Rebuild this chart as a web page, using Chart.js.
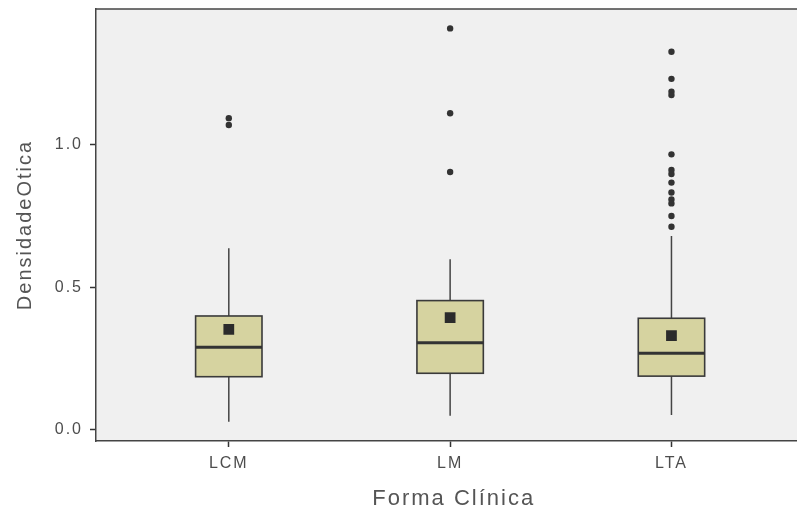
<!DOCTYPE html>
<html><head><meta charset="utf-8">
<script src="https://cdn.jsdelivr.net/npm/chart.js@4.4.1/dist/chart.umd.min.js"></script>
<style>html,body{margin:0;padding:0;overflow:hidden;background:#fff}canvas{display:block}</style>
</head><body><canvas id="c" width="805" height="516" style="width:805px;height:516px"></canvas>
<script>
const categories = ['LCM', 'LM', 'LTA'];
const q1 = [0.187, 0.199, 0.189];
const median = [0.290, 0.306, 0.269];
const q3 = [0.400, 0.454, 0.392];
const whiskerLow = [0.029, 0.050, 0.053];
const whiskerHigh = [0.638, 0.599, 0.681];
const means = [0.353, 0.394, 0.331];
const outliersLCM = [1.094, 1.070];
const outliersLM = [1.409, 1.111, 0.905];
const outliersLTA = [1.327, 1.232, 1.187, 1.175, 0.967, 0.912, 0.898, 0.868, 0.833, 0.809, 0.795, 0.751, 0.713];
const yTicks = [0, 0.5, 1.0];
const xTitle = 'Forma Clínica';
const yTitle = 'DensidadeOtica';

const FONT = '"Liberation Sans", Arial, sans-serif';
const outlierSets = [outliersLCM, outliersLM, outliersLTA];

const boxPlugin = {
  id: 'boxplot',
  beforeDraw(chart) {
    const {ctx, chartArea: a} = chart;
    ctx.letterSpacing = '2px';
    ctx.save();
    ctx.fillStyle = '#F0F0F0';
    ctx.fillRect(a.left, a.top, a.right - a.left, a.bottom - a.top);
    ctx.restore();
  },
  beforeDatasetsDraw(chart) {
    const xs = chart.scales.x, ys = chart.scales.y, ctx = chart.ctx;
    const halfW = 0.15;
    ctx.save();
    categories.forEach((c, i) => {
      const cx = xs.getPixelForValue(i + 1);
      const l = xs.getPixelForValue(i + 1 - halfW);
      const r = xs.getPixelForValue(i + 1 + halfW);
      const yq1 = ys.getPixelForValue(q1[i]);
      const yq3 = ys.getPixelForValue(q3[i]);
      const ymed = ys.getPixelForValue(median[i]);
      ctx.strokeStyle = '#444444';
      ctx.lineWidth = 1.5;
      ctx.beginPath();
      ctx.moveTo(cx, ys.getPixelForValue(whiskerHigh[i]));
      ctx.lineTo(cx, yq3);
      ctx.moveTo(cx, yq1);
      ctx.lineTo(cx, ys.getPixelForValue(whiskerLow[i]));
      ctx.stroke();
      ctx.fillStyle = '#D6D3A0';
      ctx.fillRect(l, yq3, r - l, yq1 - yq3);
      ctx.strokeStyle = '#3a3a3a';
      ctx.lineWidth = 1.6;
      ctx.strokeRect(l, yq3, r - l, yq1 - yq3);
      ctx.lineWidth = 3;
      ctx.strokeStyle = '#333333';
      ctx.beginPath();
      ctx.moveTo(l, ymed);
      ctx.lineTo(r, ymed);
      ctx.stroke();
    });
    ctx.restore();
  },
  afterDraw(chart) {
    const {ctx, chartArea: a} = chart;
    ctx.save();
    ctx.strokeStyle = '#444444';
    ctx.lineWidth = 1.5;
    ctx.beginPath();
    ctx.moveTo(a.left, a.top);
    ctx.lineTo(a.right, a.top);
    ctx.stroke();
    ctx.fillStyle = '#555555';
    ctx.font = '22px ' + FONT;
    ctx.textAlign = 'center';
    ctx.textBaseline = 'middle';
    ctx.fillText(xTitle, (a.left + a.right) / 2 + 7, 499);
    ctx.restore();
  }
};

const outlierData = [];
outlierSets.forEach((set, i) => set.forEach(v => outlierData.push({x: i + 1, y: v})));

const noPad = s => { s.paddingTop = 0; s.paddingBottom = 0; s.paddingLeft = 0; s.paddingRight = 0; };

new Chart(document.getElementById('c'), {
  type: 'scatter',
  data: {
    datasets: [
      {
        label: 'outliers',
        data: outlierData,
        pointStyle: 'circle',
        pointRadius: 3.2,
        backgroundColor: '#333333',
        borderColor: '#333333',
        borderWidth: 0
      },
      {
        label: 'mean',
        data: categories.map((c, i) => ({x: i + 1, y: means[i]})),
        pointStyle: 'rect',
        pointRadius: 7.6,
        backgroundColor: '#2b2b2b',
        borderColor: '#2b2b2b',
        borderWidth: 0
      }
    ]
  },
  options: {
    responsive: false,
    animation: false,
    layout: {padding: {top: 9, right: 0, left: 0, bottom: 0}},
    plugins: {legend: {display: false}, tooltip: {enabled: false}},
    scales: {
      x: {
        type: 'linear',
        min: 0.4,
        max: 3.569,
        afterBuildTicks: s => { s.ticks = [1, 2, 3].map(v => ({value: v})); },
        afterFit: s => { s.height = 75; noPad(s); },
        ticks: {
          callback: v => categories[Math.round(v) - 1],
          color: '#4d4d4d',
          font: {family: FONT, size: 16},
          padding: 7,
          maxRotation: 0
        },
        grid: {display: true, drawOnChartArea: false, drawTicks: true, tickLength: 6, tickColor: '#333333', tickWidth: 1.5},
        border: {display: true, color: '#444444', width: 1.5},
        title: {display: false}
      },
      y: {
        type: 'linear',
        min: -0.0386,
        max: 1.477,
        afterBuildTicks: s => { s.ticks = yTicks.map(v => ({value: v})); },
        afterFit: s => { s.width = 96; noPad(s); },
        ticks: {
          callback: v => v.toFixed(1),
          color: '#4d4d4d',
          font: {family: FONT, size: 16},
          padding: 7
        },
        grid: {display: true, drawOnChartArea: false, drawTicks: true, tickLength: 6, tickColor: '#333333', tickWidth: 1.5},
        border: {display: true, color: '#444444', width: 1.5},
        title: {display: true, text: yTitle, color: '#555555', font: {family: FONT, size: 20}, padding: {top: 13, bottom: 0}}
      }
    }
  },
  plugins: [boxPlugin]
});
</script>
</body></html>
